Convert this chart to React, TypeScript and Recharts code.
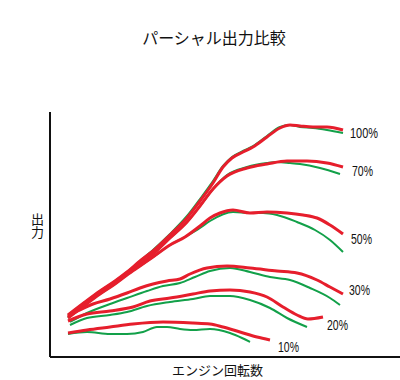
import { LineChart, Line, XAxis, YAxis, LabelList } from 'recharts';

// engine speed (x) and output (y), arbitrary units
const x100 = [18, 35, 50, 65, 77, 90, 103, 120, 137, 150, 163, 173, 182, 193, 203, 217, 230, 240, 250, 263, 277, 293];
const red100 = [42, 55, 66, 76, 85, 96, 106, 122, 139, 156, 174, 190, 199, 205, 210, 220, 229, 232, 231, 230, 230, 227];
const green100 = [42, 55, 66, 76, 85, 96, 107, 123, 141, 158, 176, 191, 200, 206, 211, 221, 230, 232, 230, 229, 227, 224];

const x70 = [18, 35, 50, 65, 77, 90, 103, 120, 137, 150, 163, 177, 197, 217, 237, 257, 277, 293];
const red70 = [40, 53, 64, 74, 83, 93, 103, 119, 135, 151, 168, 181, 189, 193, 196, 196, 194, 190];
const xg70 = [18, 35, 50, 65, 77, 90, 103, 120, 137, 150, 163, 177, 197, 217, 227, 240, 250, 270, 290];
const green70 = [40, 53, 64, 74, 83, 93, 103, 119, 135, 151, 168, 182, 190, 194, 195, 194, 193, 189, 183];

const x50 = [18, 35, 50, 65, 77, 90, 103, 120, 135, 150, 160, 170, 183, 200, 217, 237, 253, 267, 280, 293];
const red50 = [39, 52, 63, 73, 82, 91, 100, 112, 120, 131, 139, 144, 147, 144, 145, 144, 142, 139, 132, 123];
const xg50 = [18, 35, 50, 65, 77, 90, 103, 120, 135, 150, 160, 183, 200, 213, 227, 247, 265, 280, 293];
const green50 = [39, 52, 63, 73, 82, 91, 100, 112, 120, 129, 136, 145, 144, 144, 142, 135, 127, 117, 105];

const x30 = [18, 30, 43, 60, 77, 90, 103, 117, 130, 140, 157, 177, 200, 227, 247, 267, 280, 293];
const red30 = [41, 47, 53, 58, 64, 69, 73, 76, 78, 83, 89, 91, 89, 86, 84, 77, 70, 63];
const xg30 = [20, 37, 60, 77, 97, 113, 130, 145, 160, 180, 200, 220, 240, 260, 280, 290];
const green30 = [35, 44, 53, 59, 66, 71, 74, 80, 86, 89, 85, 80, 77, 69, 59, 52];

const x20 = [18, 37, 60, 83, 100, 120, 143, 160, 180, 200, 217, 233, 247, 258, 273];
const red20 = [36, 43, 46, 50, 56, 59, 63, 66, 67, 65, 60, 50, 42, 38, 40];
const xg20 = [20, 37, 60, 77, 97, 120, 143, 160, 180, 200, 220, 237, 257];
const green20 = [32, 39, 42, 45, 51, 55, 58, 61, 61, 57, 49, 39, 30];

const x10 = [18, 37, 60, 83, 113, 143, 160, 173, 190, 207, 220];
const red10 = [24, 27, 30, 33, 35, 34, 33, 30, 25, 20, 17];
const xg10 = [18, 37, 60, 77, 93, 107, 117, 130, 143, 160, 180, 192, 200];
const green10 = [23, 25, 23, 23, 25, 30, 30, 28, 27, 28, 24, 19, 15];

const toPoints = (xs: number[], ys: number[]) => xs.map((x, i) => ({ x, y: ys[i] }));

const RED = '#e61e2c';
const GREEN = '#12a049';

const series = [
  { name: '100%', red: toPoints(x100, red100), green: toPoints(x100, green100), dx: 7, dy: 4 },
  { name: '70%', red: toPoints(x70, red70), green: toPoints(xg70, green70), dx: 9, dy: 5 },
  { name: '50%', red: toPoints(x50, red50), green: toPoints(xg50, green50), dx: 8, dy: 6 },
  { name: '30%', red: toPoints(x30, red30), green: toPoints(xg30, green30), dx: 6, dy: -3 },
  { name: '20%', red: toPoints(x20, red20), green: toPoints(xg20, green20), dx: 4, dy: 9 },
  { name: '10%', red: toPoints(x10, red10), green: toPoints(xg10, green10), dx: 8, dy: 8 },
];

// condensed-looking end labels, like the original's narrow font
const endLabel = (name: string, last: number, dx: number, dy: number) => (props: any) => {
  if (props.index !== last) return <g />;
  return (
    <text
      x={props.x + dx}
      y={props.y + dy}
      dominantBaseline="middle"
      fontSize={14}
      fontFamily="Liberation Sans, Arial, sans-serif"
      textLength={name.length * 7}
      lengthAdjust="spacingAndGlyphs"
      fill="#111"
    >
      {name}
    </text>
  );
};

export default function App() {
  return (
    <div style={{ position: 'absolute', left: 0, top: 0, width: 400, height: 380, background: '#fff' }}>
      <div
        style={{
          position: 'absolute',
          left: 0,
          width: 428,
          top: 29,
          textAlign: 'center',
          fontSize: 16,
          lineHeight: '16px',
          fontFamily: '"Noto Sans CJK JP", sans-serif',
          color: '#111',
        }}
      >
        パーシャル出力比較
      </div>
      <div
        style={{
          position: 'absolute',
          left: 31,
          top: 213,
          writingMode: 'vertical-rl',
          fontSize: 13,
          lineHeight: '13px',
          fontFamily: '"Noto Sans CJK JP", sans-serif',
          color: '#111',
        }}
      >
        出力
      </div>
      <div
        style={{
          position: 'absolute',
          left: 172,
          top: 363,
          fontSize: 13,
          lineHeight: '13px',
          fontFamily: '"Noto Sans CJK JP", sans-serif',
          color: '#111',
        }}
      >
        エンジン回転数
      </div>
      <LineChart width={400} height={380} margin={{ top: 112, right: 0, bottom: 22, left: 49 }}>
        <XAxis
          type="number"
          dataKey="x"
          domain={[0, 350]}
          height={1}
          tick={false}
          tickLine={false}
          axisLine={{ stroke: '#111', strokeWidth: 2 }}
        />
        <YAxis
          type="number"
          domain={[0, 245]}
          width={1}
          tick={false}
          tickLine={false}
          axisLine={{ stroke: '#111', strokeWidth: 2 }}
        />
        {series.map((s) => (
          <Line
            key={'g' + s.name}
            data={s.green}
            dataKey="y"
            type="monotone"
            stroke={GREEN}
            strokeWidth={2}
            dot={false}
            activeDot={false}
            isAnimationActive={false}
          />
        ))}
        {series.map((s) => (
          <Line
            key={'r' + s.name}
            data={s.red}
            dataKey="y"
            type="monotone"
            stroke={RED}
            strokeWidth={3}
            dot={false}
            activeDot={false}
            isAnimationActive={false}
          >
            <LabelList dataKey="y" content={endLabel(s.name, s.red.length - 1, s.dx, s.dy)} />
          </Line>
        ))}
      </LineChart>
    </div>
  );
}
